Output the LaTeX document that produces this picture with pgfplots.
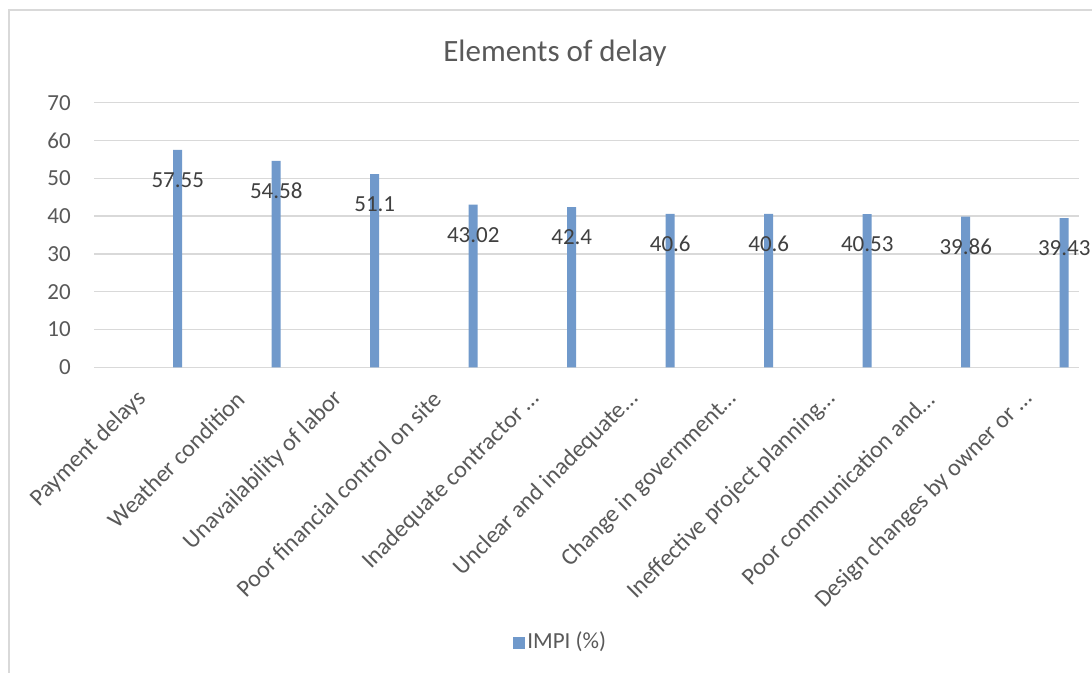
\documentclass[border=0pt]{standalone}
\usepackage{pgfplots}
\pgfplotsset{compat=1.18}
\usepackage{fontspec}
\setmainfont{Carlito}
\definecolor{barblue}{HTML}{7099CB}
\definecolor{gridgrey}{HTML}{D9D9D9}
\definecolor{txtgrey}{HTML}{595959}
\definecolor{lblgrey}{HTML}{404040}
\newcommand{\tickfont}{\fontsize{23bp}{27bp}\selectfont}
\newcommand{\catfont}{\fontsize{24bp}{28bp}\selectfont}

\begin{document}
\begin{tikzpicture}[x=1bp,y=1bp]
\useasboundingbox (0,0) rectangle (1092,673);
\fill[white] (0,0) rectangle (1092,673);
% chart frame
\draw[gridgrey, line width=1.5bp] (9,0) -- (9,663) -- (1092,663);
% title
\node[anchor=base, text=txtgrey, inner sep=0pt, font=\fontsize{31bp}{36bp}\selectfont]
  at (555,611.5) {Elements of delay};
\begin{axis}[
  at={(143.25bp,305.7bp)}, anchor=origin,
  scale only axis, width=985bp, height=264.6bp,
  xmin=-0.5, xmax=9.5, ymin=0, ymax=70,
  ytick={0,10,...,70},
  xtick={0,...,9},
  xticklabels={Payment delays, Weather condition, Unavailability of labor,
    Poor financial control on site, Inadequate contractor …,
    Unclear and inadequate…, Change in government…,
    Ineffective project planning…, Poor communication and…,
    Design changes by owner or …},
  ymajorgrids, grid style={gridgrey, line width=1.3bp},
  axis line style={draw=none},
  major tick length=0pt,
  /pgf/number format/assume math mode=true,
  every tick label/.append style={text=txtgrey, font=\tickfont},
  xticklabel style={xshift=-1bp, rotate=45, anchor=east, inner sep=0pt, font=\catfont},
  xticklabel shift=28bp,
  yticklabel style={anchor=east, inner sep=0pt},
  yticklabel shift=23bp,
  legend style={at={(0.4735,-1.034)}, anchor=center, draw=none, fill=none,
    font=\tickfont, text=txtgrey},
]
\addplot[ybar, bar width=9bp, bar shift=0pt, fill=barblue, draw=none,
  nodes near coords,
  every node near coord/.append style={anchor=center, yshift=-30bp,
    text=lblgrey, font=\tickfont, inner sep=0pt},
  legend image code/.code={%
    \node[fill=barblue, draw=none, inner sep=0pt, minimum width=12.6bp,
      minimum height=12.6bp, anchor=west] at (0bp,-2bp) {};}]
  coordinates {
  (0.35,57.55) (1.35,54.58) (2.35,51.1) (3.35,43.02) (4.35,42.4)
  (5.35,40.6) (6.35,40.6) (7.35,40.53) (8.35,39.86) (9.35,39.43)
};
\legend{IMPI (\%)}
\end{axis}
\end{tikzpicture}
\end{document}
